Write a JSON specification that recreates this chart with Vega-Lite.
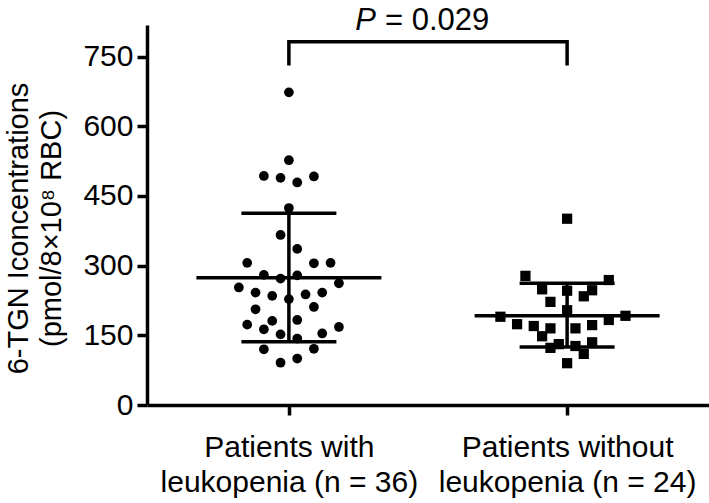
{
  "$schema": "https://vega.github.io/schema/vega-lite/v6.json",
  "width": 562,
  "height": 380,
  "autosize": {"type": "none"},
  "padding": {"left": 147, "top": 25, "right": 0, "bottom": 98},
  "background": "white",
  "config": {"view": {"stroke": null}, "font": "Liberation Sans"},
  "datasets": {
    "points": [
      {"group": "Patients with leukopenia (n = 36)", "lane": 0, "value": 673},
      {"group": "Patients with leukopenia (n = 36)", "lane": 0, "value": 527},
      {"group": "Patients with leukopenia (n = 36)", "lane": -3, "value": 493},
      {"group": "Patients with leukopenia (n = 36)", "lane": -1, "value": 489},
      {"group": "Patients with leukopenia (n = 36)", "lane": 1, "value": 479},
      {"group": "Patients with leukopenia (n = 36)", "lane": 3, "value": 492},
      {"group": "Patients with leukopenia (n = 36)", "lane": 0, "value": 424},
      {"group": "Patients with leukopenia (n = 36)", "lane": -1, "value": 366},
      {"group": "Patients with leukopenia (n = 36)", "lane": 1, "value": 336},
      {"group": "Patients with leukopenia (n = 36)", "lane": -5, "value": 306},
      {"group": "Patients with leukopenia (n = 36)", "lane": 3, "value": 305},
      {"group": "Patients with leukopenia (n = 36)", "lane": 5, "value": 306},
      {"group": "Patients with leukopenia (n = 36)", "lane": -3, "value": 280},
      {"group": "Patients with leukopenia (n = 36)", "lane": -1, "value": 272},
      {"group": "Patients with leukopenia (n = 36)", "lane": 1, "value": 279},
      {"group": "Patients with leukopenia (n = 36)", "lane": -6, "value": 253},
      {"group": "Patients with leukopenia (n = 36)", "lane": 6, "value": 262},
      {"group": "Patients with leukopenia (n = 36)", "lane": -4, "value": 242},
      {"group": "Patients with leukopenia (n = 36)", "lane": -2, "value": 235},
      {"group": "Patients with leukopenia (n = 36)", "lane": 0, "value": 228},
      {"group": "Patients with leukopenia (n = 36)", "lane": 2, "value": 238},
      {"group": "Patients with leukopenia (n = 36)", "lane": 4, "value": 242},
      {"group": "Patients with leukopenia (n = 36)", "lane": -4, "value": 206},
      {"group": "Patients with leukopenia (n = 36)", "lane": 3, "value": 211},
      {"group": "Patients with leukopenia (n = 36)", "lane": -5, "value": 173},
      {"group": "Patients with leukopenia (n = 36)", "lane": -2, "value": 181},
      {"group": "Patients with leukopenia (n = 36)", "lane": 1, "value": 183},
      {"group": "Patients with leukopenia (n = 36)", "lane": -3, "value": 163},
      {"group": "Patients with leukopenia (n = 36)", "lane": -1, "value": 152},
      {"group": "Patients with leukopenia (n = 36)", "lane": 1, "value": 143},
      {"group": "Patients with leukopenia (n = 36)", "lane": 4, "value": 154},
      {"group": "Patients with leukopenia (n = 36)", "lane": 6, "value": 168},
      {"group": "Patients with leukopenia (n = 36)", "lane": -3, "value": 120},
      {"group": "Patients with leukopenia (n = 36)", "lane": 3, "value": 121},
      {"group": "Patients with leukopenia (n = 36)", "lane": -1, "value": 91},
      {"group": "Patients with leukopenia (n = 36)", "lane": 1, "value": 100},
      {"group": "Patients without leukopenia (n = 24)", "lane": 0, "value": 401},
      {"group": "Patients without leukopenia (n = 24)", "lane": -5, "value": 278},
      {"group": "Patients without leukopenia (n = 24)", "lane": 5, "value": 269},
      {"group": "Patients without leukopenia (n = 24)", "lane": -3, "value": 249},
      {"group": "Patients without leukopenia (n = 24)", "lane": 0, "value": 246},
      {"group": "Patients without leukopenia (n = 24)", "lane": 3, "value": 247},
      {"group": "Patients without leukopenia (n = 24)", "lane": 2, "value": 234},
      {"group": "Patients without leukopenia (n = 24)", "lane": -2, "value": 222},
      {"group": "Patients without leukopenia (n = 24)", "lane": 0, "value": 204},
      {"group": "Patients without leukopenia (n = 24)", "lane": -8, "value": 190},
      {"group": "Patients without leukopenia (n = 24)", "lane": 7, "value": 192},
      {"group": "Patients without leukopenia (n = 24)", "lane": 5, "value": 183},
      {"group": "Patients without leukopenia (n = 24)", "lane": -6, "value": 174},
      {"group": "Patients without leukopenia (n = 24)", "lane": -4, "value": 170},
      {"group": "Patients without leukopenia (n = 24)", "lane": -2, "value": 165},
      {"group": "Patients without leukopenia (n = 24)", "lane": 1, "value": 165},
      {"group": "Patients without leukopenia (n = 24)", "lane": 3, "value": 172},
      {"group": "Patients without leukopenia (n = 24)", "lane": -3, "value": 148},
      {"group": "Patients without leukopenia (n = 24)", "lane": -1, "value": 131},
      {"group": "Patients without leukopenia (n = 24)", "lane": 1, "value": 127},
      {"group": "Patients without leukopenia (n = 24)", "lane": 3, "value": 135},
      {"group": "Patients without leukopenia (n = 24)", "lane": -2, "value": 123},
      {"group": "Patients without leukopenia (n = 24)", "lane": 2, "value": 110},
      {"group": "Patients without leukopenia (n = 24)", "lane": 0, "value": 90}
    ],
    "summary": [
      {"group": "Patients with leukopenia (n = 36)", "mean": 274, "lo": 136, "hi": 413},
      {"group": "Patients without leukopenia (n = 24)", "mean": 192, "lo": 125, "hi": 262}
    ],
    "bracket": [
      {"group": "Patients with leukopenia (n = 36)", "v": 731, "o": 1},
      {"group": "Patients with leukopenia (n = 36)", "v": 782, "o": 2},
      {"group": "Patients without leukopenia (n = 24)", "v": 782, "o": 3},
      {"group": "Patients without leukopenia (n = 24)", "v": 731, "o": 4}
    ],
    "ptext": [{"p": "P", "rest": "= 0.029", "v": 808}]
  },
  "layer": [
    {
      "data": {"name": "points"},
      "mark": {"type": "point", "filled": true, "opacity": 1, "color": "black"},
      "encoding": {
        "x": {
          "field": "group", "type": "nominal",
          "scale": {"type": "point", "padding": 0.51, "domain": ["Patients with leukopenia (n = 36)", "Patients without leukopenia (n = 24)"]},
          "axis": {
            "title": null, "domainWidth": 3.5, "domainColor": "black",
            "tickColor": "black", "tickWidth": 3.5, "tickSize": 10,
            "labelFont": "Liberation Sans", "labelFontSize": 30, "labelColor": "black",
            "labelPadding": 17, "labelLineHeight": 35, "labelAngle": 0, "labelBaseline": "top",
            "labelLimit": 400, "labelOverlap": false, "labelBound": false,
            "labelExpr": "[replace(datum.label, / leukopenia.*$/, ''), 'leukopenia' + replace(datum.label, /^.*leukopenia/, '')]"
          }
        },
        "xOffset": {"field": "lane", "type": "quantitative", "scale": {"domain": [-8, 8], "range": [-66.7, 66.7]}},
        "y": {
          "field": "value", "type": "quantitative",
          "scale": {"domain": [0, 818], "nice": false, "zero": true},
          "axis": {
            "values": [0, 150, 300, 450, 600, 750], "grid": false,
            "domainWidth": 3.5, "domainColor": "black",
            "tickColor": "black", "tickWidth": 3.5, "tickSize": 10,
            "labelFont": "Liberation Sans", "labelFontSize": 30, "labelColor": "black", "labelPadding": 4,
            "title": ["6-TGN Iconcentrations", "(pmol/8×10⁸ RBC)"],
            "titleFont": "Liberation Sans", "titleFontSize": 29, "titleFontWeight": "normal", "titleColor": "black",
            "titleLineHeight": 33, "titlePadding": 16, "titleY": 203
          }
        },
        "shape": {"field": "group", "type": "nominal", "scale": {"domain": ["Patients with leukopenia (n = 36)", "Patients without leukopenia (n = 24)"], "range": ["circle", "square"]}, "legend": null},
        "size": {"field": "group", "type": "nominal", "scale": {"domain": ["Patients with leukopenia (n = 36)", "Patients without leukopenia (n = 24)"], "range": [95, 105]}, "legend": null}
      }
    },
    {
      "data": {"name": "summary"},
      "mark": {"type": "rule", "color": "black", "strokeWidth": 3.5},
      "encoding": {
        "x": {"field": "group", "type": "nominal"},
        "y": {"field": "lo", "type": "quantitative"},
        "y2": {"field": "hi"}
      }
    },
    {
      "data": {"name": "summary"},
      "mark": {"type": "tick", "color": "black", "opacity": 1, "size": 185, "thickness": 3.5},
      "encoding": {
        "x": {"field": "group", "type": "nominal"},
        "y": {"field": "mean", "type": "quantitative"}
      }
    },
    {
      "data": {"name": "summary"},
      "mark": {"type": "tick", "color": "black", "opacity": 1, "size": 95, "thickness": 3.5},
      "encoding": {
        "x": {"field": "group", "type": "nominal"},
        "y": {"field": "lo", "type": "quantitative"}
      }
    },
    {
      "data": {"name": "summary"},
      "mark": {"type": "tick", "color": "black", "opacity": 1, "size": 95, "thickness": 3.5},
      "encoding": {
        "x": {"field": "group", "type": "nominal"},
        "y": {"field": "hi", "type": "quantitative"}
      }
    },
    {
      "data": {"name": "bracket"},
      "mark": {"type": "line", "color": "black", "strokeWidth": 3.5},
      "encoding": {
        "x": {"field": "group", "type": "nominal"},
        "y": {"field": "v", "type": "quantitative"},
        "order": {"field": "o", "type": "quantitative"}
      }
    },
    {
      "data": {"name": "ptext"},
      "mark": {"type": "text", "font": "Liberation Sans", "fontSize": 31, "fontStyle": "italic", "color": "black", "align": "right", "baseline": "alphabetic", "dx": -52},
      "encoding": {
        "y": {"field": "v", "type": "quantitative"},
        "text": {"field": "p"}
      }
    },
    {
      "data": {"name": "ptext"},
      "mark": {"type": "text", "font": "Liberation Sans", "fontSize": 31, "color": "black", "align": "left", "baseline": "alphabetic", "dx": -43},
      "encoding": {
        "y": {"field": "v", "type": "quantitative"},
        "text": {"field": "rest"}
      }
    }
  ]
}
